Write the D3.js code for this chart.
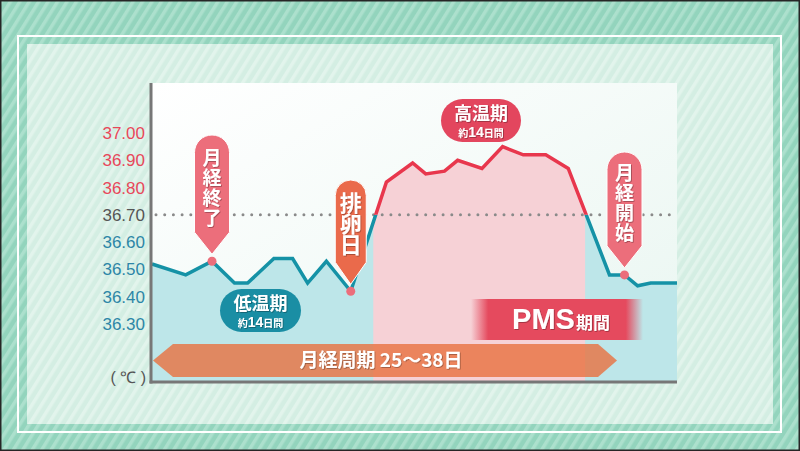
<!DOCTYPE html>
<html>
<head>
<meta charset="utf-8">
<script src="https://cdn.jsdelivr.net/npm/d3@7"></script>
<style>
  html, body { margin: 0; padding: 0; background: #97d6c0; }
  svg { display: block; }
  .jp { font-family: "Noto Sans CJK JP", "Noto Sans", sans-serif; font-weight: 700; }
</style>
</head>
<body>
<div id="chart"></div>
<script>
// basal body temperature over one cycle (days from start, deg C)
var days  = [0, 1.8, 3.2, 4.4, 5.1, 6.5, 7.5, 8.3, 9.3, 10.6, 12.5, 13.9, 14.6, 15.6, 16.3, 17.6, 18.7, 19.8, 21.0, 22.2, 24.4, 25.2, 25.9, 26.6, 28];
var temps = [36.52, 36.48, 36.53, 36.45, 36.45, 36.54, 36.54, 36.45, 36.53, 36.42, 36.82, 36.89, 36.85, 36.86, 36.90, 36.87, 36.95, 36.92, 36.92, 36.87, 36.48, 36.48, 36.44, 36.45, 36.45];

var tickVals = [37.00, 36.90, 36.80, 36.70, 36.60, 36.50, 36.40, 36.30];
var threshold = 36.70;

// high temperature phase (days)
var highStart = 11.8;
var highEnd = 23.1;

// callouts pinned to points of the line
var calloutLabels = ["月経終了", "排卵日", "月経開始"];
var calloutIdx = [2, 9, 21];

var svgWidth = 800;
var svgHeight = 451;

var plot = { left: 152, right: 677, top: 83, bottom: 382 };

var svg = d3.select("#chart")
  .append("svg")
  .attr("width", svgWidth)
  .attr("height", svgHeight);

var defs = svg.append("defs");

function stripes(id, base, line, w) {
  var p = defs.append("pattern")
    .attr("id", id)
    .attr("patternUnits", "userSpaceOnUse")
    .attr("width", 8)
    .attr("height", 8)
    .attr("patternTransform", "rotate(32)");
  p.append("rect").attr("width", 8).attr("height", 8).attr("fill", base);
  p.append("rect").attr("width", w).attr("height", 8).attr("fill", line);
}
stripes("outerStripe", "#93d4bd", "#ace0cd", 3.5);
stripes("innerStripe", "#d4eee3", "#e2f4ec", 3.5);

var plotGrad = defs.append("linearGradient")
  .attr("id", "plotGrad")
  .attr("x1", "0").attr("y1", "0").attr("x2", "1").attr("y2", "1");
plotGrad.append("stop").attr("offset", "0%").attr("stop-color", "#ffffff");
plotGrad.append("stop").attr("offset", "100%").attr("stop-color", "#e9f6f1");

var pmsGrad = defs.append("linearGradient")
  .attr("id", "pmsGrad")
  .attr("x1", "0").attr("y1", "0").attr("x2", "1").attr("y2", "0");
[[0, 0], [0.1, 1], [0.9, 1], [1, 0]].forEach(function(s) {
  pmsGrad.append("stop")
    .attr("offset", s[0])
    .attr("stop-color", "#e54a5e")
    .attr("stop-opacity", s[1]);
});

var shadow = defs.append("filter").attr("id", "shadow")
  .attr("x", "-20%").attr("y", "-20%").attr("width", "140%").attr("height", "140%");
shadow.append("feDropShadow")
  .attr("dx", 0.8).attr("dy", 0.8).attr("stdDeviation", 0.6)
  .attr("flood-color", "#000").attr("flood-opacity", 0.35);

// background frame
svg.append("rect")
  .attr("width", svgWidth).attr("height", svgHeight)
  .attr("fill", "url(#outerStripe)");
svg.append("rect")
  .attr("x", 27).attr("y", 44).attr("width", 746).attr("height", 380)
  .attr("fill", "url(#innerStripe)");
svg.append("rect")
  .attr("x", 18).attr("y", 36).attr("width", 763).attr("height", 396)
  .attr("fill", "none").attr("stroke", "#ffffff").attr("stroke-width", 2);
svg.append("rect")
  .attr("width", svgWidth).attr("height", svgHeight)
  .attr("fill", "none").attr("stroke", "#262626").attr("stroke-width", 3);

// scales
var xScale = d3.scaleLinear().domain([0, 28]).range([plot.left, plot.right]);
var yScale = d3.scaleLinear().domain([36.30, 37.00]).range([324, 133]);

var chartGroup = svg.append("g");

chartGroup.append("rect")
  .attr("x", plot.left).attr("y", plot.top)
  .attr("width", plot.right - plot.left).attr("height", plot.bottom - plot.top)
  .attr("fill", "url(#plotGrad)");

var data = days.map(function(d, i) { return { day: d, temp: temps[i] }; });

var area = d3.area()
  .x(function(d) { return xScale(d.day); })
  .y0(plot.bottom)
  .y1(function(d) { return yScale(d.temp); });

var lineGen = d3.line()
  .x(function(d) { return xScale(d.day); })
  .y(function(d) { return yScale(d.temp); });

defs.append("clipPath").attr("id", "highClip")
  .append("rect")
  .attr("x", xScale(highStart)).attr("y", 0)
  .attr("width", xScale(highEnd) - xScale(highStart)).attr("height", svgHeight);
defs.append("clipPath").attr("id", "aboveClip")
  .append("rect")
  .attr("x", 0).attr("y", 0)
  .attr("width", svgWidth).attr("height", yScale(threshold));
defs.append("clipPath").attr("id", "belowClip")
  .append("rect")
  .attr("x", 0).attr("y", yScale(threshold))
  .attr("width", svgWidth).attr("height", svgHeight);

chartGroup.append("path")
  .datum(data)
  .attr("d", area)
  .attr("fill", "#bde6e9");
chartGroup.append("path")
  .datum(data)
  .attr("d", area)
  .attr("fill", "#f6d1d6")
  .attr("clip-path", "url(#highClip)");

// 36.70 reference line
chartGroup.append("line")
  .attr("x1", plot.left + 4).attr("x2", plot.right)
  .attr("y1", yScale(threshold)).attr("y2", yScale(threshold))
  .attr("stroke", "#8a8a8a")
  .attr("stroke-width", 3)
  .attr("stroke-linecap", "round")
  .attr("stroke-dasharray", "0,8.7");

chartGroup.append("path")
  .datum(data)
  .attr("d", lineGen)
  .attr("fill", "none")
  .attr("stroke", "#1592a6")
  .attr("stroke-width", 3.5)
  .attr("clip-path", "url(#belowClip)");
chartGroup.append("path")
  .datum(data)
  .attr("d", lineGen)
  .attr("fill", "none")
  .attr("stroke", "#e8374d")
  .attr("stroke-width", 3.5)
  .attr("clip-path", "url(#aboveClip)");

// axes
chartGroup.append("line")
  .attr("x1", plot.left - 1).attr("x2", plot.left - 1)
  .attr("y1", plot.top).attr("y2", plot.bottom + 1.5)
  .attr("stroke", "#777").attr("stroke-width", 3);
chartGroup.append("line")
  .attr("x1", plot.left - 2.5).attr("x2", plot.right)
  .attr("y1", plot.bottom).attr("y2", plot.bottom)
  .attr("stroke", "#777").attr("stroke-width", 3);

var leftAxis = d3.axisLeft(yScale)
  .tickValues(tickVals)
  .tickFormat(d3.format(".2f"))
  .tickSize(0)
  .tickPadding(6);

var yAxis = chartGroup.append("g")
  .attr("transform", `translate(${plot.left - 1}, 0)`)
  .call(leftAxis);
yAxis.select(".domain").remove();
yAxis.selectAll("text")
  .attr("font-family", "'Liberation Sans', Arial, sans-serif")
  .attr("font-size", 17)
  .attr("fill", function(d) {
    if (d > threshold + 0.001) return "#e8485a";
    if (d < threshold - 0.001) return "#2d86a7";
    return "#555";
  });

chartGroup.append("text")
  .attr("x", plot.left - 6).attr("y", 377)
  .attr("text-anchor", "end")
  .attr("dy", "0.35em")
  .attr("font-family", "'Liberation Sans', Arial, sans-serif")
  .attr("font-size", 16)
  .attr("fill", "#555")
  .text("( ℃ )");

// cycle length arrow
var arrowTop = 344, arrowBot = 377, arrowMid = 360.5;
chartGroup.append("path")
  .attr("d", `M153,${arrowMid} L173,${arrowTop} L598,${arrowTop} L617,${arrowMid} L598,${arrowBot} L173,${arrowBot} Z`)
  .attr("fill", "#e8703f")
  .attr("fill-opacity", 0.8);
chartGroup.append("text")
  .attr("class", "jp")
  .attr("x", 381).attr("y", arrowMid)
  .attr("dy", "0.36em")
  .attr("text-anchor", "middle")
  .attr("font-size", 19)
  .attr("fill", "#fff")
  .attr("filter", "url(#shadow)")
  .text("月経周期 25～38日");

// PMS band
chartGroup.append("rect")
  .attr("x", 471).attr("y", 299).attr("width", 172).attr("height", 41)
  .attr("fill", "url(#pmsGrad)");
var pms = chartGroup.append("text")
  .attr("x", 561).attr("y", 329)
  .attr("text-anchor", "middle")
  .attr("fill", "#fff")
  .attr("filter", "url(#shadow)");
pms.append("tspan")
  .attr("font-family", "'Liberation Sans', Arial, sans-serif")
  .attr("font-weight", 700)
  .attr("font-size", 29)
  .text("PMS");
pms.append("tspan")
  .attr("class", "jp")
  .attr("font-size", 17)
  .attr("dx", 1)
  .text("期間");

// phase pills
function phasePill(x, y, w, h, color, title) {
  var g = chartGroup.append("g");
  g.append("rect")
    .attr("x", x).attr("y", y).attr("width", w).attr("height", h)
    .attr("rx", h / 2).attr("ry", h / 2)
    .attr("fill", color);
  g.append("text")
    .attr("class", "jp")
    .attr("x", x + w / 2).attr("y", y + 20.5)
    .attr("text-anchor", "middle")
    .attr("font-size", 18)
    .attr("fill", "#fff")
    .attr("filter", "url(#shadow)")
    .text(title);
  var sub = g.append("text")
    .attr("class", "jp")
    .attr("x", x + w / 2).attr("y", y + 38)
    .attr("text-anchor", "middle")
    .attr("fill", "#fff")
    .attr("filter", "url(#shadow)");
  sub.append("tspan").attr("font-size", 10).text("約");
  sub.append("tspan")
    .attr("font-family", "'Liberation Sans', Arial, sans-serif")
    .attr("font-size", 14)
    .text("14");
  sub.append("tspan").attr("font-size", 10).text("日間");
}
phasePill(441, 99, 80, 43, "#e3465e", "高温期");
phasePill(220, 289, 81, 43, "#1a8ea4", "低温期");

// vertical callouts with pointer down to a point of the line
var calloutStyle = [
  { w: 35, top: 135, color: "#ec6e7b", size: 19, step: 20, first: 148 },
  { w: 31, top: 180, color: "#ea6a4b", size: 22, step: 21, first: 192 },
  { w: 35, top: 152, color: "#ec6e7b", size: 19, step: 20, first: 163 }
];

calloutIdx.forEach(function(idx, k) {
  var st = calloutStyle[k];
  var mx = xScale(days[idx]);
  var my = yScale(temps[idx]);
  var tip = my - 7;
  var r = st.w / 2;
  var bodyBottom = tip - 22;
  var g = chartGroup.append("g");
  g.append("path")
    .attr("d", `M${mx - r},${st.top + r} A${r},${r} 0 0 1 ${mx + r},${st.top + r} L${mx + r},${bodyBottom} L${mx},${tip} L${mx - r},${bodyBottom} Z`)
    .attr("fill", st.color)
    .attr("stroke", "#fff")
    .attr("stroke-width", 1);
  g.append("text")
    .attr("class", "jp")
    .attr("x", mx).attr("y", st.first)
    .style("writing-mode", "vertical-rl")
    .style("letter-spacing", (st.step - st.size) + "px")
    .attr("font-size", st.size)
    .attr("fill", "#fff")
    .attr("filter", "url(#shadow)")
    .text(calloutLabels[k]);
  g.append("circle")
    .attr("cx", mx).attr("cy", my)
    .attr("r", 4.5)
    .attr("fill", "#ec6e7b");
});
</script>
</body>
</html>
